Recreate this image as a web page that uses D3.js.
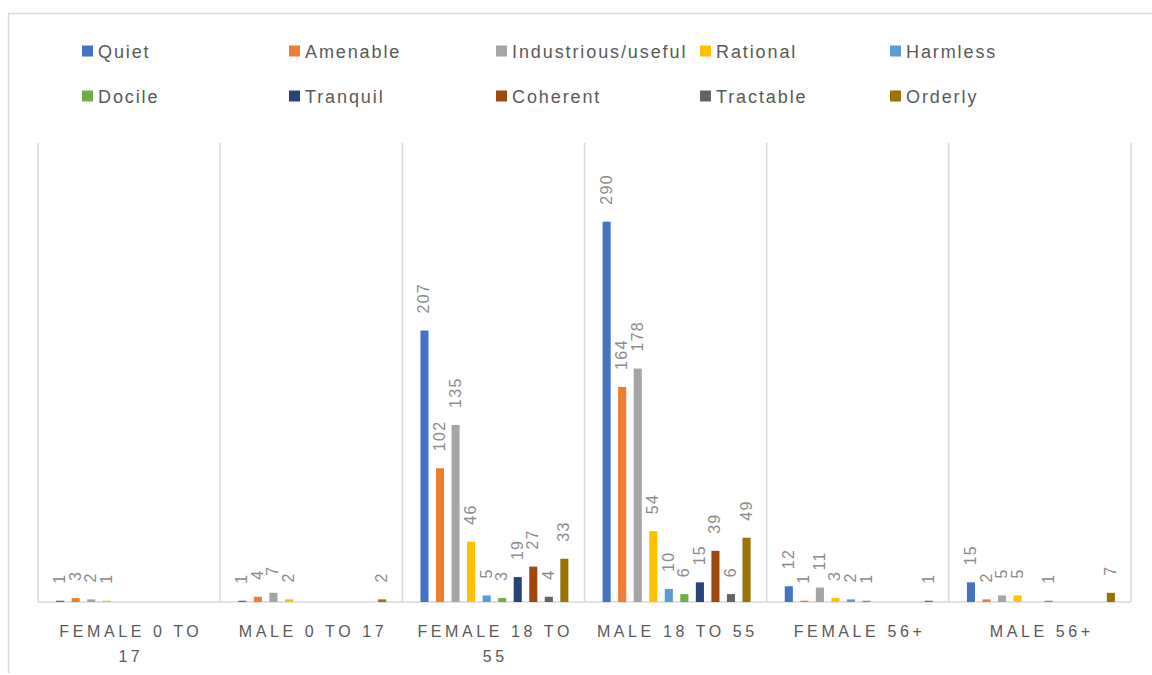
<!DOCTYPE html>
<html>
<head>
<meta charset="utf-8">
<script src="https://cdn.jsdelivr.net/npm/d3@7"></script>
<style>
  html, body { margin: 0; padding: 0; background: #fff; }
  svg { display: block; font-family: "Liberation Sans", Arial, sans-serif; }
</style>
</head>
<body>
<svg id="chart" width="1152" height="675"></svg>
<script>
const categories = ["FEMALE 0 TO 17", "MALE 0 TO 17", "FEMALE 18 TO 55", "MALE 18 TO 55", "FEMALE 56+", "MALE 56+"];
const categoryLines = [["FEMALE 0 TO", "17"], ["MALE 0 TO 17"], ["FEMALE 18 TO", "55"], ["MALE 18 TO 55"], ["FEMALE 56+"], ["MALE 56+"]];
const seriesNames = ["Quiet", "Amenable", "Industrious/useful", "Rational", "Harmless", "Docile", "Tranquil", "Coherent", "Tractable", "Orderly"];
const seriesColors = ["#4472C4", "#ED7D31", "#A5A5A5", "#FFC000", "#5B9BD5", "#70AD47", "#264478", "#9E480E", "#636363", "#997300"];
// values per category, in series order (null = no value)
const female0to17 = [1, 3, 2, 1, null, null, null, null, null, null];
const male0to17   = [1, 4, 7, 2, null, null, null, null, null, 2];
const female18to55 = [207, 102, 135, 46, 5, 3, 19, 27, 4, 33];
const male18to55   = [290, 164, 178, 54, 10, 6, 15, 39, 6, 49];
const female56plus = [12, 1, 11, 3, 2, 1, null, null, null, 1];
const male56plus   = [15, 2, 5, 5, null, 1, null, null, null, 7];
const values = [female0to17, male0to17, female18to55, male18to55, female56plus, male56plus];
const yMax = 350;

const svg = d3.select("#chart");

// outer chart border (top & left visible)
svg.append("line").attr("x1", 8).attr("x2", 1152).attr("y1", 13.5).attr("y2", 13.5)
  .attr("stroke", "#d9d9d9").attr("stroke-width", 1.5);
svg.append("line").attr("x1", 8.5).attr("x2", 8.5).attr("y1", 13).attr("y2", 673)
  .attr("stroke", "#d9d9d9").attr("stroke-width", 1.5);

const x0 = d3.scaleBand().domain(categories).range([38, 1131]).padding(0);
const x1 = d3.scaleBand().domain(seriesNames).range([0, x0.bandwidth()]).paddingInner(0.48).paddingOuter(1.1);
const y = d3.scaleLinear().domain([0, yMax]).range([602, 143]);

// category separators
const seps = categories.map(c => x0(c)).concat([x0(categories[categories.length - 1]) + x0.bandwidth()]);
svg.append("g").selectAll("line").data(seps).join("line")
  .attr("x1", d => d).attr("x2", d => d)
  .attr("y1", y(yMax)).attr("y2", y(0))
  .attr("stroke", "#d9d9d9").attr("stroke-width", 1.5);

// baseline axis
svg.append("line").attr("x1", 38).attr("x2", 1131).attr("y1", y(0)).attr("y2", y(0))
  .attr("stroke", "#d9d9d9").attr("stroke-width", 1.5);

// bars
const groups = svg.append("g").selectAll("g").data(categories).join("g")
  .attr("transform", c => `translate(${x0(c) + 1},0)`);

groups.each(function(c, ci) {
  const g = d3.select(this);
  const rows = seriesNames.map((s, si) => ({ s, si, v: values[ci][si] })).filter(d => d.v !== null);
  g.selectAll("rect").data(rows).join("rect")
    .attr("x", d => x1(d.s))
    .attr("width", x1.bandwidth())
    .attr("y", d => y(d.v))
    .attr("height", d => y(0) - y(d.v))
    .attr("fill", d => seriesColors[d.si]);
  g.selectAll("text").data(rows).join("text")
    .attr("transform", d => `translate(${x1(d.s) + x1.bandwidth() / 2 + 5},${y(d.v) - 17}) rotate(-90)`)
    .attr("text-anchor", "start")
    .attr("font-size", 16)
    .attr("letter-spacing", 1.3)
    .attr("fill", "#8c8c8c")
    .text(d => d.v);
});

// category labels
const catG = svg.append("g");
categories.forEach((c, ci) => {
  const t = catG.append("text")
    .attr("x", x0(c) + x0.bandwidth() / 2)
    .attr("y", 637)
    .attr("text-anchor", "middle")
    .attr("font-size", 16)
    .attr("letter-spacing", 3.6)
    .attr("fill", "#595959");
  categoryLines[ci].forEach((ln, li) => {
    t.append("tspan").attr("x", x0(c) + x0.bandwidth() / 2 + 1.8).attr("dy", li === 0 ? 0 : 25).text(ln);
  });
});

// legend
const legendX = [82, 289, 496, 700, 890];
const legendY = [51, 96];
const leg = svg.append("g");
seriesNames.forEach((s, i) => {
  const col = i % 5, row = Math.floor(i / 5);
  const g = leg.append("g").attr("transform", `translate(${legendX[col]},${legendY[row]})`);
  g.append("rect").attr("x", 0).attr("y", -5.5).attr("width", 11).attr("height", 11).attr("fill", seriesColors[i]);
  g.append("text").attr("x", 16).attr("y", 6.5).attr("font-size", 18).attr("letter-spacing", 1.9)
    .attr("fill", "#595959").text(s);
});
</script>
</body>
</html>
